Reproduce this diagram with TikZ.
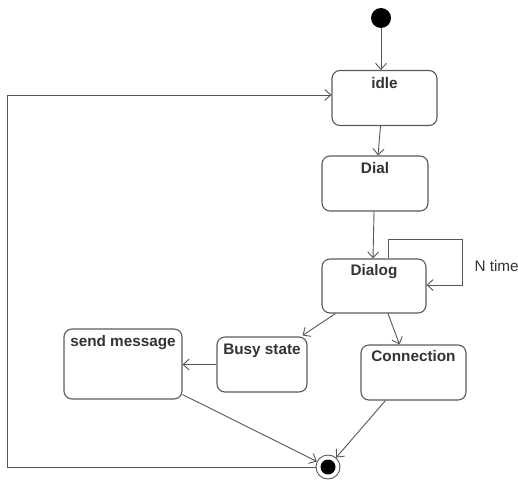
\documentclass[tikz,border=0pt]{standalone}
\usepackage{fontspec}
\setmainfont{Liberation Sans}
\usetikzlibrary{arrows.meta,calc}
\definecolor{lineg}{HTML}{555555}
\definecolor{boxg}{HTML}{5A5A5A}
\definecolor{txtg}{HTML}{333333}
\begin{document}
\begin{tikzpicture}[x=1pt,y=-1pt,
  state/.style={draw=boxg,line width=1.1pt,rounded corners=8pt,fill=white,inner sep=0pt},
  ttl/.style={font=\fontsize{15.3}{17}\selectfont\bfseries,text=txtg},
  conn/.style={draw=lineg,line width=0.9pt,-{Straight Barb[length=6pt,width=11pt,line width=0.9pt]}},
]
\useasboundingbox (0,0) rectangle (518,481);
% states
\node[state,minimum width=105pt,minimum height=55pt] (idle) at (384.5,98) {};
\node[ttl,anchor=north] (idlet) at (384.5,74) {idle};
\node[state,minimum width=106pt,minimum height=55pt] (dial) at (375,183.5) {};
\node[ttl,anchor=north] (dialt) at (375,159) {Dial};
\node[state,minimum width=104pt,minimum height=54pt] (dialog) at (374,286) {};
\node[ttl,anchor=north] (dialogt) at (374,261) {Dialog};
\node[state,minimum width=90pt,minimum height=55pt] (busy) at (262,364.5) {};
\node[ttl,anchor=north] (busyt) at (262,340) {Busy state};
\node[state,minimum width=118pt,minimum height=70pt] (send) at (123,364) {};
\node[ttl,anchor=north] (sendt) at (123,332) {send message};
\node[state,minimum width=105pt,minimum height=55pt] (conn) at (413.5,372.5) {};
\node[ttl,anchor=north] (connt) at (413.5,347) {Connection};
% initial and final
\node[circle,fill=black,minimum size=20pt,inner sep=0pt] (init) at (381,18) {};
\node[circle,draw=lineg,line width=0.9pt,fill=white,minimum size=24pt,inner sep=0pt] (final) at (328,467) {};
\node[circle,fill=black,minimum size=15pt,inner sep=0pt] (finalin) at (final.center) {};
% label
\node[font=\fontsize{15.3}{17}\selectfont,text=txtg,anchor=west] (ntime) at (471,266) {N time};
% connectors
\coordinate (ia) at (idle.north -| init);
\draw[conn] (init) -- (ia);
\coordinate (is) at ($(idle.south)+(-4,0)$);
\coordinate (dn) at ($(dial.north)+(3,0)$);
\draw[conn] (is) -- (dn);
\coordinate (ds) at ($(dial.south)+(-1,0)$);
\coordinate (dgn) at ($(dialog.north)+(-1,0)$);
\draw[conn] (ds) -- (dgn);
% self loop
\coordinate (sl1) at ($(dialog.north)+(14,0)$);
\coordinate (sl2) at (462,239);
\coordinate (sl3) at (dialog.east |- 0,285);
\draw[conn] (sl1) |- (sl2) |- (sl3);
% dialog -> busy
\coordinate (dgb) at ($(dialog.south west)+(14,0)$);
\coordinate (bn) at ($(busy.north east)+(-5,-1)$);
\draw[conn] (dgb) -- (bn);
% dialog -> connection
\coordinate (dgc) at ($(dialog.south)+(14,0)$);
\coordinate (cn) at ($(conn.north west)+(39,0)$);
\draw[conn] (dgc) -- (cn);
% busy -> send
\draw[conn] (busy.west) -- (send.east |- busy.west);
% send -> final
\coordinate (se) at ($(send.south east)+(0,-5)$);
\draw[conn] (se) -- (final);
% connection -> final
\coordinate (cs) at ($(conn.south west)+(25,0)$);
\draw[conn] (cs) -- (final);
% return loop
\coordinate (lb) at (7,467);
\coordinate (lt) at (7,95);
\draw[conn] (final.west) -- (lb) -- (lt) -- (idle.west |- lt);
\end{tikzpicture}
\end{document}
